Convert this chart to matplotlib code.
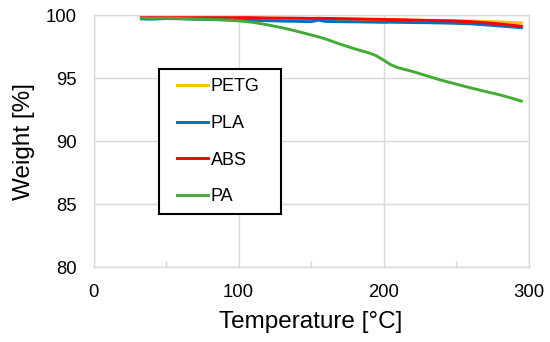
import matplotlib.pyplot as plt
import matplotlib as mpl
from matplotlib.patches import Rectangle

# temperature [°C] and weight [%] for each material
temp = [33, 40, 50, 60, 70, 80, 90, 100, 110, 120, 130, 140, 150, 155, 160,
        170, 180, 190, 195, 200, 205, 210, 220, 230, 240, 250, 260, 270, 280,
        290, 295]
petg = [99.88, 99.87, 99.86, 99.85, 99.84, 99.83, 99.82, 99.81, 99.80, 99.78,
        99.76, 99.75, 99.73, 99.73, 99.72, 99.70, 99.69, 99.67, 99.66, 99.65,
        99.64, 99.63, 99.62, 99.60, 99.60, 99.58, 99.56, 99.52, 99.48, 99.43,
        99.41]
pla = [99.72, 99.70, 99.75, 99.73, 99.70, 99.68, 99.66, 99.63, 99.60, 99.58,
       99.55, 99.53, 99.50, 99.62, 99.52, 99.50, 99.49, 99.47, 99.46, 99.45,
       99.46, 99.45, 99.43, 99.42, 99.40, 99.37, 99.33, 99.25, 99.16, 99.07,
       99.02]
abs_ = [99.92, 99.90, 99.88, 99.87, 99.86, 99.85, 99.87, 99.84, 99.83, 99.80,
        99.79, 99.78, 99.76, 99.77, 99.76, 99.74, 99.72, 99.70, 99.69, 99.68,
        99.67, 99.66, 99.63, 99.60, 99.58, 99.55, 99.50, 99.42, 99.32, 99.20,
        99.15]
pa = [99.78, 99.76, 99.78, 99.75, 99.72, 99.68, 99.63, 99.57, 99.45, 99.25,
      99.02, 98.75, 98.45, 98.30, 98.13, 97.72, 97.35, 97.02, 96.80, 96.45,
      96.08, 95.85, 95.55, 95.20, 94.85, 94.55, 94.25, 93.97, 93.70, 93.38,
      93.20]

mpl.rcParams['font.family'] = ['Liberation Sans', 'DejaVu Sans']

dpi = 100
fig = plt.figure(figsize=(550 / dpi, 342 / dpi), dpi=dpi)
ax = fig.add_axes([0.170, 0.218, 0.791, 0.737])

gray = '#d9d9d9'
ax.plot(temp, petg, color='#ffc000', lw=2.1, label='PETG')
ax.plot(temp, pla, color='#0070c0', lw=2.1, label='PLA')
ax.plot(temp, abs_, color='#ff0000', lw=2.1, label='ABS')
ax.plot(temp, pa, color='#43aa36', lw=2.1, label='PA')

ax.set_xlim(0, 300)
ax.set_ylim(80, 100)
ax.set_xticks([0, 100, 200, 300])
ax.set_yticks([80, 85, 90, 95, 100])
ax.set_xticks([50, 150, 250], minor=True)
ax.tick_params(axis='both', which='major', length=0, labelsize=13.3, pad=12)
ax.tick_params(axis='x', which='minor', direction='in', length=4, color=gray, width=1)
ax.tick_params(axis='y', which='minor', length=0)
ax.grid(True, which='major', color=gray, lw=1)
ax.set_axisbelow(True)
for s in ax.spines.values():
    s.set_color(gray)
    s.set_linewidth(1)

ax.set_xlabel('Temperature [°C]', fontsize=17.5, labelpad=7)
ax.set_ylabel('Weight [%]', fontsize=17.5, labelpad=8)

# legend entries without frame, frame drawn as a box around them
leg = ax.legend(loc='upper left', bbox_to_anchor=(0.1913, 0.750), borderaxespad=0,
                fontsize=13, frameon=False, handlelength=1.75,
                handletextpad=0.12, labelspacing=1.09, borderpad=0)
ax.add_patch(Rectangle((0.1506, 0.2115), 0.2805, 0.5755, transform=ax.transAxes,
                       facecolor='white', edgecolor='black', lw=1.5, zorder=4))
leg.set_zorder(5)

fig.savefig('out.png', dpi=dpi)
